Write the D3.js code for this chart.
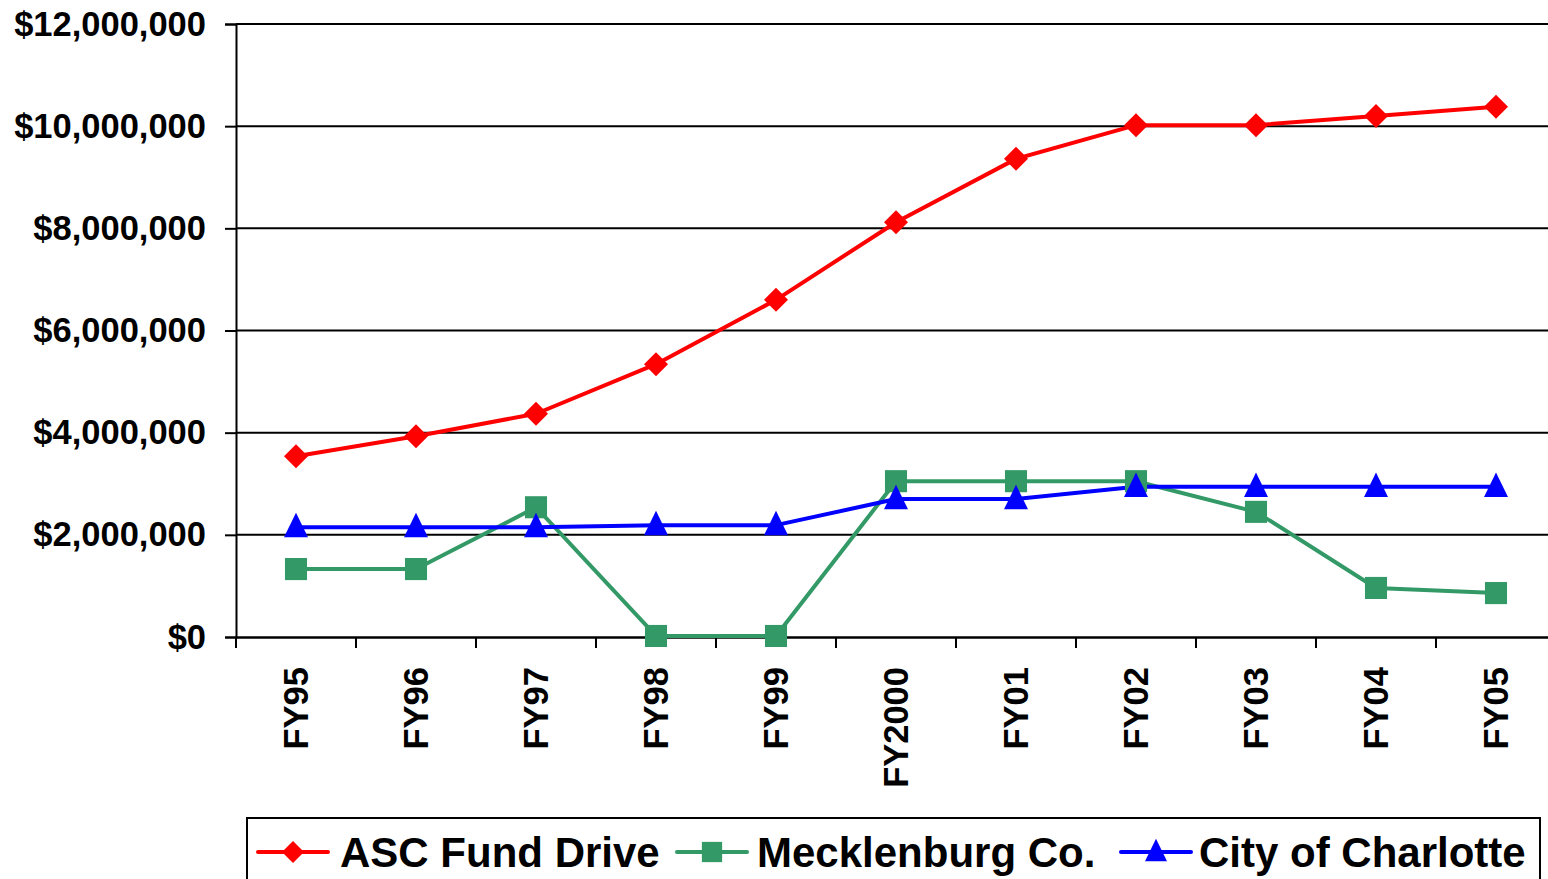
<!DOCTYPE html>
<html>
<head>
<meta charset="utf-8">
<script src="https://cdn.jsdelivr.net/npm/d3@7"></script>
<style>
  html, body { margin: 0; padding: 0; background: #fff; overflow: hidden; }
  svg { display: block; font-family: "Liberation Sans", Arial, sans-serif; font-weight: bold; }
</style>
</head>
<body>
<svg id="chart" width="1548" height="879"></svg>
<script>
const categories = ["FY95","FY96","FY97","FY98","FY99","FY2000","FY01","FY02","FY03","FY04","FY05"];
const ascFundDrive = [3540000, 3930000, 4370000, 5340000, 6600000, 8120000, 9360000, 10020000, 10020000, 10200000, 10380000];
const mecklenburg = [1330000, 1330000, 2540000, 20000, 20000, 3050000, 3050000, 3050000, 2450000, 960000, 860000];
const cityCharlotte = [2150000, 2150000, 2150000, 2190000, 2190000, 2700000, 2700000, 2940000, 2940000, 2940000, 2940000];
const yTicks = [0, 2000000, 4000000, 6000000, 8000000, 10000000, 12000000];
const seriesNames = ["ASC Fund Drive", "Mecklenburg Co.", "City of Charlotte"];

const series = [
  {name: seriesNames[0], values: ascFundDrive, color: "#FF0000", shape: "diamond"},
  {name: seriesNames[1], values: mecklenburg, color: "#339966", shape: "square"},
  {name: seriesNames[2], values: cityCharlotte, color: "#0000FF", shape: "triangle"}
];

const svg = d3.select("#chart");
const pLeft = 236, pRight = 1556, pTop = 24, pBottom = 637;

const x = d3.scaleBand().domain(categories).range([pLeft, pRight]).padding(0);
const y = d3.scaleLinear().domain([0, 12000000]).range([pBottom, pTop]);
const cx = c => x(c) + x.bandwidth() / 2;

// gridlines
svg.append("g").selectAll("line").data(yTicks.filter(v => v > 0)).join("line")
  .attr("x1", pLeft).attr("x2", 1548)
  .attr("y1", d => y(d)).attr("y2", d => y(d))
  .attr("stroke", "#000").attr("stroke-width", 2);

// y axis
const fmt = d => "$" + d3.format(",")(d);
const yAxis = svg.append("g").attr("transform", `translate(${pLeft},0)`)
  .call(d3.axisLeft(y).tickValues(yTicks).tickFormat(fmt).tickSize(11).tickPadding(19));
yAxis.select(".domain").attr("stroke", "#000").attr("stroke-width", 2);
yAxis.selectAll(".tick line").attr("stroke", "#000").attr("stroke-width", 2);
yAxis.selectAll("text").attr("font-size", 34.5).attr("font-weight", "bold").attr("fill", "#000")
  .attr("font-family", "'Liberation Sans', Arial, sans-serif");

// x axis
const xAxis = svg.append("g").attr("transform", `translate(0,${pBottom})`)
  .call(d3.axisBottom(x).tickSize(0).tickPadding(0));
xAxis.select(".domain").attr("stroke", "#000").attr("stroke-width", 2.5);
xAxis.selectAll(".tick text")
  .attr("font-size", 34.5).attr("font-weight", "bold").attr("fill", "#000")
  .attr("font-family", "'Liberation Sans', Arial, sans-serif")
  .attr("text-anchor", "end")
  .attr("transform", "translate(12,30) rotate(-90)")
  .attr("dy", 0).attr("y", 0).attr("x", 0);
// boundary ticks
svg.append("g").selectAll("line").data(categories).join("line")
  .attr("x1", d => x(d)).attr("x2", d => x(d))
  .attr("y1", pBottom).attr("y2", pBottom + 11)
  .attr("stroke", "#000").attr("stroke-width", 2);

// markers
function drawMarker(g, shape, color, sz) {
  if (shape === "diamond") {
    g.append("path").attr("d", `M0,${-sz}L${sz},0L0,${sz}L${-sz},0Z`).attr("fill", color);
  } else if (shape === "square") {
    g.append("rect").attr("x", -sz * 0.92).attr("y", -sz * 0.92).attr("width", sz * 1.84).attr("height", sz * 1.84).attr("fill", color);
  } else {
    g.append("path").attr("d", `M0,${-sz * 1.2}L${sz},${sz * 0.85}L${-sz},${sz * 0.85}Z`).attr("fill", color);
  }
}

const line = d3.line().x((d, i) => cx(categories[i])).y(d => y(d));
series.forEach(s => {
  svg.append("path").datum(s.values).attr("d", line)
    .attr("fill", "none").attr("stroke", s.color).attr("stroke-width", 4).attr("stroke-linejoin", "round");
});
series.forEach(s => {
  s.values.forEach((v, i) => {
    const g = svg.append("g").attr("transform", `translate(${cx(categories[i])},${y(v)})`);
    drawMarker(g, s.shape, s.color, 12);
  });
});

// legend
const lg = svg.append("g");
lg.append("rect").attr("x", 247).attr("y", 818).attr("width", 1293).attr("height", 80)
  .attr("fill", "#fff").attr("stroke", "#000").attr("stroke-width", 2);
const legendPos = [{lx: 258, tx: 340}, {lx: 677, tx: 757}, {lx: 1121, tx: 1199}];
series.forEach((s, i) => {
  const p = legendPos[i];
  const ly = 852;
  lg.append("line").attr("x1", p.lx).attr("x2", p.lx + 70).attr("y1", ly).attr("y2", ly)
    .attr("stroke", s.color).attr("stroke-width", 4).attr("stroke-linecap", "round");
  const g = lg.append("g").attr("transform", `translate(${p.lx + 35},${ly})`);
  drawMarker(g, s.shape, s.color, 11);
  lg.append("text").attr("x", p.tx).attr("y", 867).text(s.name)
    .attr("font-size", 42).attr("font-weight", "bold").attr("fill", "#000");
});
</script>
</body>
</html>
